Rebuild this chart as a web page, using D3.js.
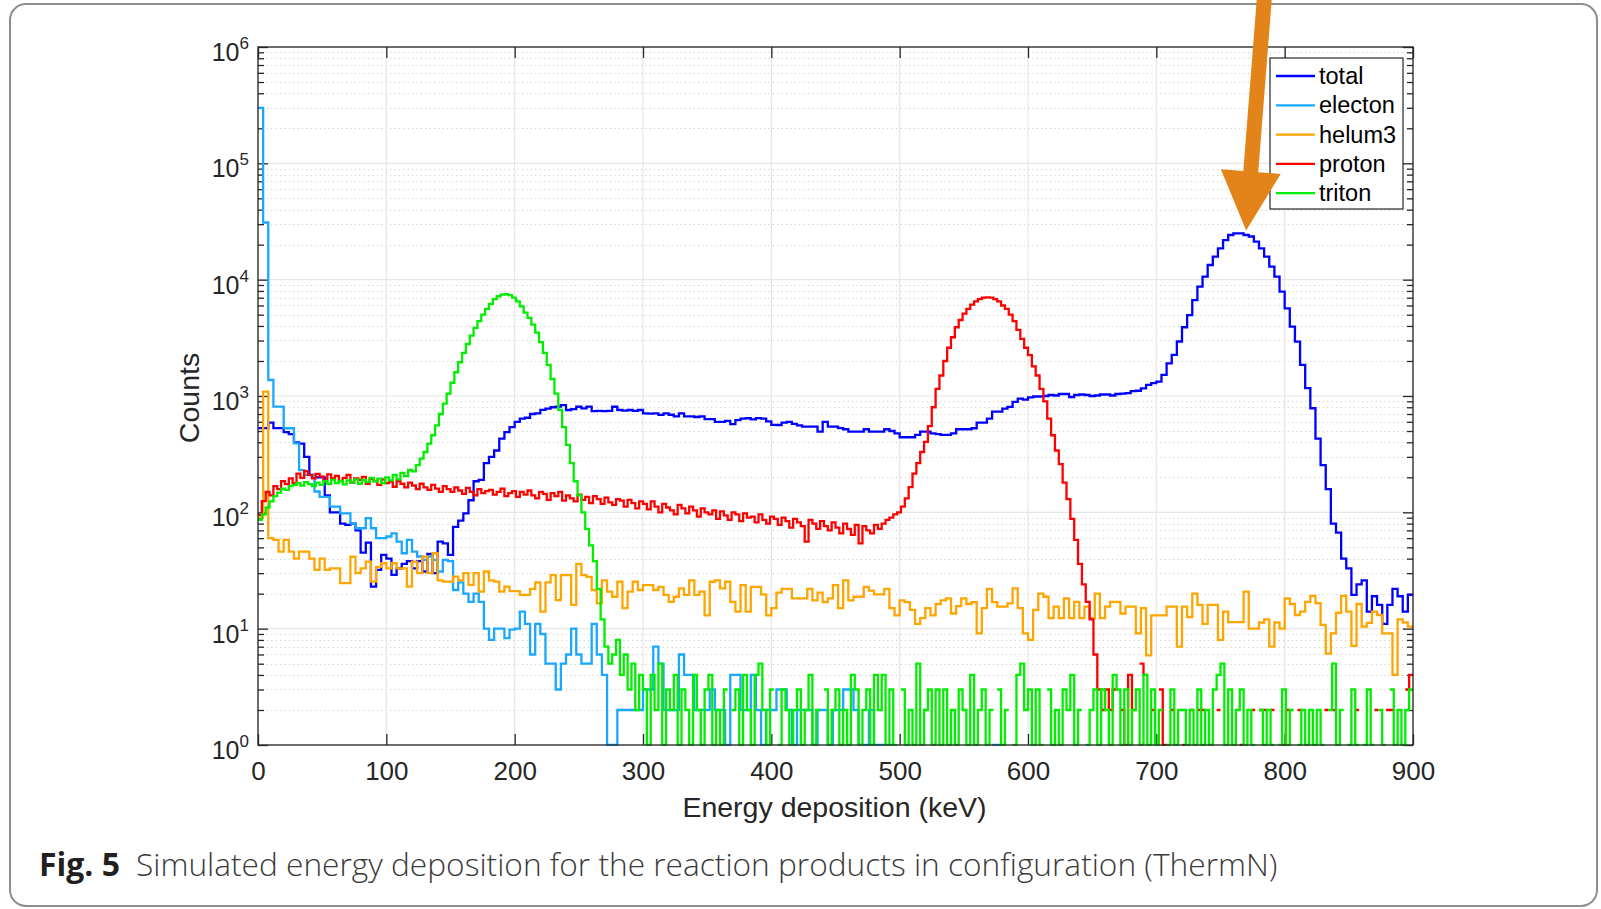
<!DOCTYPE html>
<html><head><meta charset="utf-8">
<script src="https://cdn.jsdelivr.net/npm/d3@7"></script>
<style>body{margin:0;background:#fff;}svg{display:block;}</style>
</head><body>
<svg id="chart" width="1601" height="909"></svg>
<script>
// ---------------- data ----------------
const seriesNames = ["total", "electon", "helum3", "proton", "triton"];
const seriesColors = ["#0000ff", "#1aa7ff", "#ffa500", "#ff0000", "#00ee00"];
const coarseBinWidth = 4;   // keV  (total, electon, helum3)
const fineBinWidth = 3;     // keV  (proton, triton)

const total = [530,530,590,530,530,490,470,400,390,300,
210,200,200,140,100,100,80,78,80,70,
45,55,23,32,43,40,29,33,36,38,
33,38,31,44,30,56,54,43,75,85,
98,127,185,190,265,300,340,430,490,540,
600,640,650,700,710,760,780,800,810,835,
758,770,808,783,810,740,745,740,745,808,
758,750,758,745,758,710,705,710,689,710,
690,667,710,667,667,660,667,632,632,600,
600,610,573,620,640,644,630,645,640,605,
565,563,590,600,575,560,546,546,546,494,
600,546,546,530,518,494,494,494,518,494,
494,494,518,500,478,442,442,442,463,494,
494,478,470,463,463,478,518,518,518,528,
590,590,640,733,733,780,807,890,951,930,
975,990,990,1000,1020,1010,1040,1040,980,1020,
1030,1020,1000,1010,1030,1030,1010,1040,1050,1060,
1100,1110,1165,1245,1290,1330,1520,1910,2260,2940,
3900,4960,6680,8710,10600,13370,15750,18570,21900,24200,
25000,25000,24200,23500,21200,18570,15750,12940,10600,7890,
5670,3950,2930,1850,1167,785,430,255,158,80,
67,40,33,19.5,24,26,14,19,16,11,
16,22,19,14,19.5];

const electon = [300000,31000,1373,809,809,528,528,392,231,209,
209,151,136,136,112,112,98,98,80,73,
73,89,73,60,60,62,66,56,44.5,58,
46,41.7,39,41.7,39,31,39,38,21.5,25,
20,17,20,17,10,8,10,10,8.3,9.8,
10,14,11,6,11,9,5,5,3,5,
6,10,6,5,5,11,6,4,1,1,
2,2,2,2,2,3,3,7,5,2,
2,2,6,4,4,2,2,2,3,2,
2,1,4,4,2,2,4,2,1,2,
2,3,3,2,1,2,2,2,1,2,
2,1,2,2,3,3,2,1,1,2,
1,1,0,1,0,0,0,0,0,0,
0,0,0,0,0,0,0,0,0,0,
0,0,0,1,1,0,0,0,0,0,
0,0,0,0,0,0,0,0,0,0,
0,0,0,0,0,0,0,0,0,0,
0,0,0,0,0,0,0,0,0,0,
0,0,0,0,0,0,0,0,0,0,
0,0,0,0,0,0,0,0,0,0,
0,0,0,0,0,0,0,0,0,0,
0,0,0,0,0,0,0,0,0,0,
0,0,0,0,0];

const helum3 = [90,1090,60,58,46,58,46,40,46,46,
40,32,40,32,33,33,24.6,24.6,41.5,30,
33,37.7,25.4,34,36.5,33,36.5,33,33,23,
37.7,30,41.5,30,44.5,26,25.4,25.4,28,26,
30,23.8,30,20.8,31,26,25.4,20.8,23,21,
21,19.5,19.5,22,25,14,25,28.8,17.6,28.8,
28.8,16,36,28.8,27.9,21.5,16.5,26,20.8,18.8,
25.3,15,20.8,25.3,21.5,23.7,23.7,21.5,22.9,19.5,
17,18.8,22.2,19.5,26,19.5,20.8,13,25.3,26,
22.2,25.3,17,14,23.7,14,22.9,22.9,19.7,13,
15,20.4,22,22,18.2,18.2,18.2,22,17.5,20.4,
16.9,18.2,23.7,15,26,17.5,18.8,18.8,22.9,21.2,
19.7,19.7,22,15,13,17.5,16.9,14.5,11,12.3,
15,13,16.3,17.5,18.2,13.5,15.6,18.2,16.3,16.9,
9.1,15,22,16.9,15.5,15.5,16.5,22.2,15,9.1,
8,14.5,20,18.8,12.3,15.5,12.3,18.2,12.3,17,
12.3,15.5,12.3,20,12.3,15.5,17,17,13.5,15.5,
15.5,9.1,15,5.9,13,13,13,15.5,15.5,7,
15.5,12.6,20,16,11,16,16,8,14,11.4,
11.4,11.4,20.8,10,10,11.3,12,7,11.3,10,
18.2,16.3,13.1,14,17,19.1,16.6,10.8,6.1,9.1,
13.7,19.1,14,7.1,16.3,10.4,11.2,14,13.1,9.1,
9.1,4,12,11.3,10.4];

const proton = [95,125,150,140,168,158,185,175,196,178,
215,198,226,210,196,214,204,188,212,196,
206,186,198,210,180,196,190,202,176,194,
186,172,192,178,184,166,186,176,164,180,
170,158,176,164,156,172,160,150,168,158,
150,164,154,144,162,150,140,158,146,152,
156,142,150,160,138,146,152,136,150,142,
154,140,132,150,144,128,146,138,150,126,
140,132,124,142,128,136,120,138,130,118,
134,122,116,130,126,112,128,120,108,124,
118,106,124,112,100,118,110,104,96,116,
108,98,112,104,92,108,100,96,104,88,
102,94,86,100,96,84,98,90,92,82,
96,86,80,92,88,78,90,84,74,88,
82,76,56,86,80,72,84,76,70,82,
74,66,80,72,64,78,54,76,70,66,
78,72,80,86,90,96,100,112,132,165,
215,265,330,404,550,800,1150,1500,2000,2600,
3200,3900,4500,5100,5600,6100,6500,6800,7000,7050,
7000,6800,6500,6000,5600,5000,4400,3700,3100,2600,
2250,1800,1500,1150,900,640,460,340,260,180,
130,88,58,36,24,17,12,6,3,2,
3,2,3,0,2,1,4,2,0,5,
4,0,2,0,3,1,0,2,0,0,
1,0,2,0,2,2,0,1,0,2,
0,0,0,0,0,1,0,0,2,0,
2,2,0,2,0,0,1,2,0,0,
2,0,0,0,0,0,0,2,0,2,
0,0,0,0,0,2,0,0,0,0,
2,0,0,2,2,0,0,0,3,4];

const triton = [86,96,110,124,138,148,160,156,168,172,
178,170,182,175,168,180,172,185,176,190,
178,186,174,188,180,192,176,190,182,198,
185,195,178,200,188,210,192,218,205,232,
225,255,290,330,390,460,560,700,860,1050,
1300,1600,1950,2350,2800,3300,3850,4400,5000,5600,
6200,6800,7200,7450,7500,7350,7000,6500,5900,5200,
4700,4100,3500,2900,2350,1850,1400,1050,760,540,
380,265,185,140,100,72,52,38,22,12,
7,5,6,8,4,6,3,5,2,4,
3,1,4,2,5,1,3,2,4,1,
3,2,1,4,2,1,3,4,1,2,
1,3,0,2,3,1,4,2,1,4,
5,2,1,3,0,1,3,2,1,2,
3,1,2,4,1,2,0,3,1,2,
3,1,2,1,4,3,1,2,3,1,
4,2,4,1,3,1,0,3,1,2,
1,5,1,2,3,1,3,1,3,1,
2,1,3,2,1,4,1,2,3,1,
2,0,3,1,2,0,1,4,5,2,
3,1,3,1,0,3,1,2,1,3,
2,4,1,2,0,1,2,3,1,3,
2,1,4,3,1,3,1,2,3,1,
4,1,3,1,2,0,1,3,1,2,
2,1,2,1,3,1,2,1,3,4,
5,1,3,1,2,3,1,2,1,0,
2,1,2,1,0,1,3,1,2,0,
1,2,1,2,1,2,1,0,2,5,
1,2,0,1,3,1,0,1,3,1,
0,2,1,0,3,1,2,1,2,3];

const seriesData = [total, electon, helum3, proton, triton];
const seriesBinWidths = [coarseBinWidth, coarseBinWidth, coarseBinWidth, fineBinWidth, fineBinWidth];

const xTicks = [0, 100, 200, 300, 400, 500, 600, 700, 800, 900];
const yDecades = [0, 1, 2, 3, 4, 5, 6];
const xLabel = "Energy deposition (keV)";
const yLabel = "Counts";
const captionBold = "Fig. 5";
const captionText = "Simulated energy deposition for the reaction products in configuration (ThermN)";
const arrowTarget = {energy: 770, counts: 26500};

// ---------------- layout ----------------
const plot = {left: 258, right: 1413, top: 47, bottom: 745};
const x = d3.scaleLinear().domain([0, 900]).range([plot.left, plot.right]);
const y = d3.scaleLog().domain([1, 1e6]).range([plot.bottom, plot.top]);
const axisColor = "#262626";
const chartFont = "'Liberation Sans', Arial, Helvetica, sans-serif";

const svg = d3.select("#chart");

// outer rounded frame
svg.append("rect").attr("x", 10).attr("y", 4).attr("width", 1587).attr("height", 902)
  .attr("rx", 16).attr("fill", "#fff").attr("stroke", "#8e8e8e").attr("stroke-width", 2);

// plot background
svg.append("rect").attr("x", plot.left).attr("y", plot.top)
  .attr("width", plot.right - plot.left).attr("height", plot.bottom - plot.top).attr("fill", "#fff");

// grid
const yMinor = [];
yDecades.slice(0, -1).forEach(d => { for (let k = 2; k <= 9; k++) yMinor.push(k * Math.pow(10, d)); });
const yMajor = yDecades.map(d => Math.pow(10, d));
const grid = svg.append("g");
grid.selectAll(".ymin").data(yMinor).join("line")
  .attr("x1", plot.left).attr("x2", plot.right)
  .attr("y1", d => Math.round(y(d)) + 0.5).attr("y2", d => Math.round(y(d)) + 0.5)
  .attr("stroke", "#cfcfcf").attr("stroke-width", 1).attr("stroke-dasharray", "1.2,3.2");
grid.selectAll(".ymaj").data(yMajor).join("line")
  .attr("x1", plot.left).attr("x2", plot.right)
  .attr("y1", d => y(d)).attr("y2", d => y(d))
  .attr("stroke", "#e6e6e6").attr("stroke-width", 1.2);
grid.selectAll(".xmaj").data(xTicks).join("line")
  .attr("x1", d => x(d)).attr("x2", d => x(d))
  .attr("y1", plot.top).attr("y2", plot.bottom)
  .attr("stroke", "#e6e6e6").attr("stroke-width", 1.2);

// axes
function styleAxis(g) {
  g.select(".domain").remove();
  g.selectAll(".tick line").attr("stroke", axisColor).attr("stroke-width", 1.3);
  g.selectAll(".tick text").attr("fill", axisColor).attr("font-family", chartFont).attr("font-size", 26);
}
svg.append("g").attr("transform", `translate(0,${plot.bottom})`)
  .call(d3.axisBottom(x).tickValues(xTicks).tickSizeInner(-11).tickSizeOuter(0).tickPadding(17).tickFormat(d3.format("d")))
  .call(styleAxis);
svg.append("g").attr("transform", `translate(0,${plot.top})`)
  .call(d3.axisTop(x).tickValues(xTicks).tickSizeInner(-11).tickSizeOuter(0).tickFormat(""))
  .call(styleAxis);
svg.append("g").attr("transform", `translate(${plot.left},0)`)
  .call(d3.axisLeft(y).tickValues(yMajor).tickSizeInner(-10).tickSizeOuter(0).tickFormat(""))
  .call(styleAxis);
svg.append("g").attr("transform", `translate(${plot.left},0)`)
  .call(d3.axisLeft(y).tickValues(yMinor).tickSizeInner(-6).tickSizeOuter(0).tickFormat(""))
  .call(styleAxis);
svg.append("g").attr("transform", `translate(${plot.right},0)`)
  .call(d3.axisRight(y).tickValues(yMajor).tickSizeInner(-10).tickSizeOuter(0).tickFormat(""))
  .call(styleAxis);
svg.append("g").attr("transform", `translate(${plot.right},0)`)
  .call(d3.axisRight(y).tickValues(yMinor).tickSizeInner(-6).tickSizeOuter(0).tickFormat(""))
  .call(styleAxis);

// y tick labels 10^n
const yLab = svg.append("g").attr("font-family", chartFont).attr("fill", axisColor);
yDecades.forEach(d => {
  const t = yLab.append("text").attr("x", 249).attr("y", y(Math.pow(10, d)) + 14)
    .attr("text-anchor", "end").attr("font-size", 25);
  t.append("tspan").text("10");
  t.append("tspan").attr("dy", -12).attr("font-size", 17).text(d);
});

// series (stairs)
svg.append("clipPath").attr("id", "clip").append("rect")
  .attr("x", plot.left).attr("y", plot.top - 1).attr("width", plot.right - plot.left + 1).attr("height", plot.bottom - plot.top + 2);
const line = d3.line().defined(d => d !== null).x(d => x(d.e)).y(d => y(d.v));
function stairPoints(values, width) {
  const pts = [];
  values.forEach((v, i) => {
    if (v > 0) { pts.push({e: i * width, v: v}); pts.push({e: (i + 1) * width, v: v}); }
    else pts.push(null);
  });
  return pts;
}
const gLines = svg.append("g").attr("clip-path", "url(#clip)");
seriesData.forEach((vals, i) => {
  gLines.append("path").attr("d", line(stairPoints(vals, seriesBinWidths[i])))
    .attr("fill", "none").attr("stroke", seriesColors[i]).attr("stroke-width", 2.3)
    .attr("stroke-linejoin", "miter");
});

// box
svg.append("rect").attr("x", plot.left).attr("y", plot.top)
  .attr("width", plot.right - plot.left).attr("height", plot.bottom - plot.top)
  .attr("fill", "none").attr("stroke", axisColor).attr("stroke-width", 1.3);

// axis labels
svg.append("text").attr("x", (plot.left + plot.right) / 2 - 1).attr("y", 807)
  .attr("text-anchor", "middle").attr("dominant-baseline", "central")
  .attr("font-family", chartFont).attr("font-size", 28.5).attr("fill", axisColor).text(xLabel);
svg.append("text").attr("transform", "translate(189,398) rotate(-90)")
  .attr("text-anchor", "middle").attr("dominant-baseline", "central")
  .attr("font-family", chartFont).attr("font-size", 28.5).attr("fill", axisColor).text(yLabel);

// legend
const leg = svg.append("g");
leg.append("rect").attr("x", 1270).attr("y", 58).attr("width", 133).attr("height", 151)
  .attr("fill", "#fff").attr("stroke", axisColor).attr("stroke-width", 1.2);
seriesNames.forEach((n, i) => {
  const cy = 76 + i * 29.3;
  leg.append("line").attr("x1", 1276).attr("x2", 1315).attr("y1", cy).attr("y2", cy)
    .attr("stroke", seriesColors[i]).attr("stroke-width", 2.3);
  leg.append("text").attr("x", 1319).attr("y", cy).attr("dominant-baseline", "central")
    .attr("font-family", chartFont).attr("font-size", 23.5).attr("fill", "#000").text(n);
});

// annotation arrow pointing at the total peak
(function () {
  const tip = [x(arrowTarget.energy), y(arrowTarget.counts)];
  const dir = [-18, 230]; const L = Math.hypot(dir[0], dir[1]);
  const u = [dir[0] / L, dir[1] / L]; const p = [u[1], -u[0]];
  const headLen = 59, headHalf = 30, shaftHalf = 7.5, shaftLen = 240;
  const base = [tip[0] - u[0] * headLen, tip[1] - u[1] * headLen];
  const top = [base[0] - u[0] * shaftLen, base[1] - u[1] * shaftLen];
  const pts = [
    tip,
    [base[0] + p[0] * headHalf, base[1] + p[1] * headHalf],
    [base[0] + p[0] * shaftHalf, base[1] + p[1] * shaftHalf],
    [top[0] + p[0] * shaftHalf, top[1] + p[1] * shaftHalf],
    [top[0] - p[0] * shaftHalf, top[1] - p[1] * shaftHalf],
    [base[0] - p[0] * shaftHalf, base[1] - p[1] * shaftHalf],
    [base[0] - p[0] * headHalf, base[1] - p[1] * headHalf]
  ];
  svg.append("polygon").attr("points", pts.map(q => q.join(",")).join(" ")).attr("fill", "#e2841a");
})();

// caption
const capFont = "'Open Sans', 'Noto Sans', sans-serif";
const cb = svg.append("text").attr("x", 39).attr("y", 876).attr("font-family", capFont)
  .attr("font-weight", 700).attr("font-size", 32).attr("fill", "#231f20").text(captionBold);
const cbw = cb.node().getComputedTextLength();
cb.attr("font-size", 32 * 81 / cbw);
const ct = svg.append("text").attr("x", 136).attr("y", 876).attr("font-family", capFont)
  .attr("font-weight", 300).attr("font-size", 32).attr("fill", "#3a3a3a").text(captionText);
const ctw = ct.node().getComputedTextLength();
ct.attr("font-size", 32 * 1142 / ctw);
</script>
</body></html>
